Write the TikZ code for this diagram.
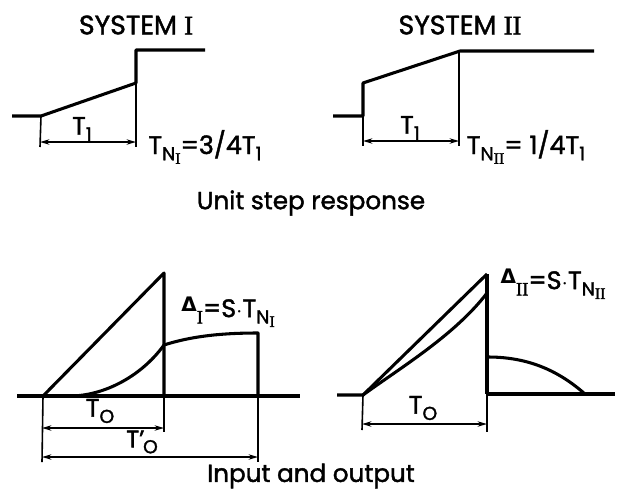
\documentclass[tikz,border=0pt]{standalone}
\usepackage{fontspec}
\setmainfont{Poppins}[BoldFont=Poppins, BoldFeatures={FakeBold=1.6}]
\newfontfamily\romfont{Liberation Serif}[BoldFont=Liberation Serif, BoldFeatures={FakeBold=1.6}]
\newfontfamily\grkfont{DejaVu Sans}
\usetikzlibrary{arrows.meta}
\newcommand\mysub[1]{\raisebox{-0.45ex}{\fontsize{14}{14}\selectfont #1}}
\newcommand\mysubsub[1]{\raisebox{-0.35ex}{\fontsize{12}{12}\selectfont #1}}
\newcommand\rI{{\romfont I}}
\newcommand\rII{{\romfont II}}
\newcommand\mydelta{{\grkfont\bfseries\fontsize{15}{15}\selectfont\raisebox{0.5ex}{Δ}}}
\tikzset{
  curve/.style={line width=2.3pt, line join=round},
  thin/.style={line width=1.2pt},
  dim/.style={line width=1.2pt, {Stealth[length=7pt,width=4pt]}-{Stealth[length=7pt,width=4pt]}},
  big/.style={font=\bfseries\fontsize{20}{20}\selectfont, inner sep=0pt},
  captext/.style={font=\bfseries\fontsize{18.5}{18.5}\selectfont, inner sep=0pt},
  lab/.style={font=\bfseries\fontsize{19}{19}\selectfont, inner sep=0pt},
}
\begin{document}
\begin{tikzpicture}[x=0.75pt,y=-0.75pt]
\useasboundingbox (0,0) rectangle (620,497);
% ---------- System I step response
\node[big] (t1) at (136,25) {SYSTEM \rI};
\coordinate (a0) at (12,116);
\coordinate (a1) at (41,116);
\coordinate (a2) at (136,83);
\coordinate (a3) at (136,50);
\coordinate (a4) at (205,50);
\draw[curve] (a0) -- (a1) -- (a2) -- (a3) -- (a4);
\coordinate (a5) at (136,147);
\coordinate (a6) at (40,147);
\draw[thin] (a2) -- (a5);
\draw[thin] (a1) -- (a6);
\coordinate (d1) at (40,142);
\coordinate (d2) at (136,142);
\draw[dim] (d1) -- (d2);
\node[lab] (T1a) at (82,129) {T\mysub{1}};
\node[lab] (TNI) at (205,147) {T\mysub{N\mysubsub{\rI}}=3/4T\mysub{1}};
% ---------- System II step response
\node[big] (t2) at (460,25) {SYSTEM \rII};
\coordinate (b0) at (333,116);
\coordinate (b1) at (363,116);
\coordinate (b2) at (363,83);
\coordinate (b3) at (460,51);
\coordinate (b4) at (594,51);
\draw[curve] (b0) -- (b1) -- (b2) -- (b3) -- (b4);
\coordinate (b5) at (459,146);
\coordinate (b6) at (363,146);
\draw[thin] (459,51) -- (b5);
\draw[thin] (b1) -- (b6);
\coordinate (e1) at (363,141);
\coordinate (e2) at (459,141);
\draw[dim] (e1) -- (e2);
\node[lab] (T1b) at (410,128) {T\mysub{1}};
\node[lab] (TNII) at (526,147) {T\mysub{N\mysubsub{\rII}}= 1/4T\mysub{1}};
\node[captext] (usr) at (311,203) {Unit step response};
% ---------- System I input/output
\coordinate (c0) at (17,396);
\coordinate (c1) at (43,396);
\coordinate (c2) at (164,273);
\coordinate (c3) at (164,396);
\coordinate (c9) at (300,396);
\draw[curve] (c0) -- (c9);
\draw[curve] (c1) -- (c2) -- (c3);
\coordinate (o1) at (70,396);
\coordinate (o2) at (164,345);
\coordinate (o3) at (258,333);
\coordinate (o4) at (258,396);
\draw[curve] (c1) -- (o1) .. controls (102,396) and (140,378) .. (o2)
   .. controls (195,335) and (228,333) .. (o3) -- (o4);
\coordinate (x1) at (42,462);
\coordinate (x2) at (164,432);
\coordinate (x3) at (258,462);
\draw[thin] (c1) -- (x1);
\draw[thin] (c3) -- (x2);
\draw[thin] (o4) -- (x3);
\draw[dim] (42,428) -- (164,428);
\draw[dim] (42,457) -- (258,457);
\node[lab] (TOa) at (100,411) {T\mysub{O}};
\node[lab, font=\bfseries\fontsize{18}{18}\selectfont] (TOp) at (142,442) {T'\kern-1pt\mysub{O}};
\node[lab] (DI) at (228,312) {\mydelta\mysub{\rI}=S$\cdot$T\mysub{N\mysubsub{\rI}}};
% ---------- System II input/output
\coordinate (f0) at (337,395);
\coordinate (f1) at (363,395);
\coordinate (f2) at (487,274);
\coordinate (f3) at (487,432);
\draw[curve] (f0) -- (f1) -- (f2);
\draw[curve] (f2) -- (487,394);
\draw[thin] (487,394) -- (f3);
\coordinate (g1) at (487,293);
\draw[curve] (f1) .. controls (400,368) and (455,335) .. (g1);
\coordinate (g2) at (488,357);
\coordinate (g3) at (585,394);
\draw[curve] (g2) .. controls (530,357) and (560,372) .. (g3);
\coordinate (h0) at (487,394);
\coordinate (h1) at (615,394);
\draw[curve] (h0) -- (h1);
\coordinate (y1) at (362,430);
\draw[thin] (f1) -- (y1);
\draw[dim] (362,424) -- (487,424);
\node[lab] (TOb) at (423,408) {T\mysub{O}};
\node[lab] (DII) at (553,284) {\mydelta\mysub{\rII}=S$\cdot$T\mysub{N\mysubsub{\rII}}};
\node[captext] (io) at (311,476) {Input and output};
\end{tikzpicture}
\end{document}
